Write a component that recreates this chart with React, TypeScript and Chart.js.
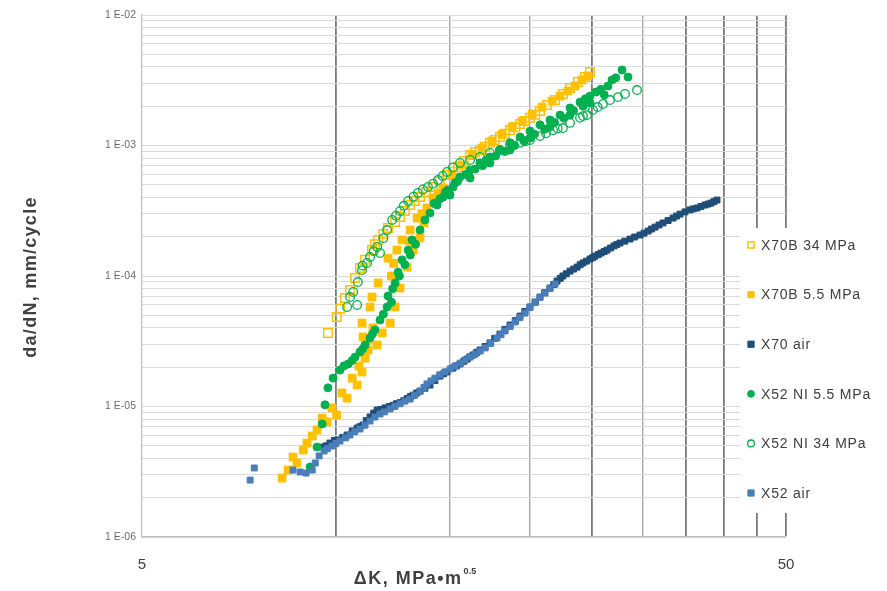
import React, { useEffect, useRef } from 'react';
import { Chart, registerables } from 'chart.js';

Chart.register(...registerables);

type Pt = [number, number];

const seriesLabels = ['X70B 34 MPa', 'X70B 5.5 MPa', 'X70 air', 'X52 NI 5.5 MPa', 'X52 NI 34 MPa', 'X52 air'];

const x70b34: Pt[] = [
  [9.72, 3.66e-5], [10.03, 4.85e-5], [10.15, 5.6e-5], [10.33, 6.78e-5], [10.52, 7.81e-5], [10.71, 9.66e-5],
  [10.9, 1.15e-4], [11.10, 1.33e-4], [11.38, 1.58e-4], [11.5, 1.75e-4], [11.63, 1.89e-4], [11.85, 2.1e-4],
  [12.05, 2.33e-4], [12.36, 2.59e-4], [12.58, 2.83e-4], [12.8, 3.15e-4], [13.04, 3.50e-4], [13.25, 3.75e-4],
  [13.51, 4.03e-4], [13.8, 4.4e-4], [14.15, 4.81e-4], [14.5, 5.3e-4], [14.88, 5.94e-4], [15.2, 6.3e-4],
  [15.48, 6.84e-4], [15.8, 7.6e-4], [16.16, 8.46e-4], [16.45, 8.9e-4], [16.74, 9.24e-4], [17.05, 9.8e-4],
  [17.35, 1.05e-3], [17.65, 1.1e-3], [17.98, 1.16e-3], [18.3, 1.23e-3], [18.64, 1.31e-3], [19.0, 1.38e-3],
  [19.32, 1.46e-3], [19.65, 1.54e-3], [20.02, 1.63e-3], [20.4, 1.72e-3], [20.75, 1.84e-3], [21.27, 2.04e-3],
  [21.90, 2.23e-3], [22.52, 2.48e-3], [23.10, 2.76e-3], [23.77, 3.07e-3], [24.37, 3.35e-3], [24.81, 3.66e-3],
];

const x70b55: Pt[] = [
  [8.25, 2.83e-6], [8.43, 3.26e-6], [8.58, 4.10e-6], [8.70, 3.69e-6], [8.90, 4.64e-6], [9.02, 5.25e-6],
  [9.19, 5.94e-6], [9.35, 6.61e-6], [9.52, 8.16e-6], [9.69, 7.61e-6], [9.86, 9.75e-6], [10.03, 8.61e-6],
  [10.22, 1.27e-5], [10.41, 1.16e-5], [10.60, 1.65e-5], [10.79, 1.46e-5], [10.86, 2.04e-5], [10.98, 1.84e-5],
  [11.10, 2.35e-5], [11.22, 2.71e-5], [11.02, 3.41e-5], [11.22, 3.23e-5], [11.42, 4.00e-5], [11.59, 2.96e-5],
  [11.80, 3.66e-5], [10.98, 4.36e-5], [11.30, 5.79e-5], [11.38, 6.90e-5], [12.14, 4.36e-5], [12.36, 5.79e-5],
  [11.63, 8.84e-5], [12.58, 8.09e-5], [12.2, 1.0e-4], [12.3, 1.25e-4], [12.05, 1.37e-4], [12.90, 1.17e-4],
  [12.44, 1.58e-4], [13.18, 1.58e-4], [13.0, 1.85e-4], [12.67, 1.89e-4], [13.04, 2.25e-4], [13.51, 1.96e-4],
  [13.7, 2.55e-4], [13.37, 2.78e-4], [13.6, 3.0e-4], [13.85, 3.32e-4], [14.15, 3.96e-4], [14.4, 4.3e-4],
  [14.67, 4.73e-4], [15.15, 5.94e-4], [15.70, 7.09e-4], [16.28, 8.46e-4], [16.86, 9.57e-4], [17.47, 1.08e-3],
  [18.11, 1.22e-3], [18.78, 1.39e-3], [19.46, 1.54e-3], [20.17, 1.74e-3], [20.90, 1.97e-3], [21.66, 2.19e-3],
  [22.29, 2.39e-3], [22.94, 2.62e-3], [23.52, 2.86e-3], [24.11, 3.18e-3], [24.63, 3.41e-3],
];

const x70air: Pt[] = [
  [9.55, 4.89e-6], [9.66, 5.0e-6], [9.79, 5.25e-6], [9.95, 5.5e-6], [10.07, 5.54e-6], [10.25, 5.8e-6],
  [10.41, 6.05e-6], [10.6, 6.5e-6], [10.79, 6.84e-6], [10.9, 7.0e-6], [11.02, 7.21e-6], [11.15, 7.8e-6],
  [11.30, 8.31e-6], [11.45, 8.9e-6], [11.59, 9.40e-6], [11.75, 9.5e-6], [11.92, 9.75e-6], [12.1, 1.0e-5],
  [12.27, 1.02e-5], [12.42, 1.05e-5], [12.58, 1.07e-5], [12.75, 1.11e-5], [12.90, 1.15e-5], [13.05, 1.19e-5],
  [13.18, 1.22e-5], [13.35, 1.27e-5], [13.51, 1.31e-5], [13.75, 1.38e-5], [14.00, 1.46e-5], [14.25, 1.58e-5],
  [14.51, 1.71e-5], [14.7, 1.78e-5], [14.88, 1.84e-5], [15.20, 1.97e-5], [15.4, 2.05e-5], [15.59, 2.12e-5],
  [15.8, 2.22e-5], [15.99, 2.31e-5], [16.15, 2.4e-5], [16.33, 2.48e-5], [16.55, 2.6e-5], [16.74, 2.71e-5],
  [17.05, 2.88e-5], [17.35, 3.07e-5], [17.65, 3.33e-5], [17.98, 3.59e-5], [18.3, 3.9e-5], [18.64, 4.21e-5],
  [19.0, 4.55e-5], [19.32, 4.93e-5], [19.65, 5.35e-5], [20.02, 5.79e-5], [20.4, 6.3e-5], [20.75, 6.90e-5],
  [21.1, 7.45e-5], [21.50, 8.09e-5], [21.8, 8.6e-5], [22.05, 9.15e-5], [22.3, 9.6e-5], [22.52, 1.00e-4],
  [22.8, 1.04e-4], [23.10, 1.09e-4], [23.4, 1.13e-4], [23.69, 1.17e-4], [23.95, 1.22e-4], [24.20, 1.26e-4],
  [24.5, 1.3e-4], [24.81, 1.35e-4], [25.05, 1.38e-4], [25.26, 1.42e-4], [25.55, 1.46e-4], [25.81, 1.50e-4],
  [26.1, 1.54e-4], [26.37, 1.58e-4], [26.7, 1.64e-4], [27.04, 1.70e-4], [27.3, 1.74e-4], [27.62, 1.79e-4],
  [28.1, 1.85e-4], [28.63, 1.92e-4], [29.1, 1.99e-4], [29.67, 2.06e-4], [30.1, 2.13e-4], [30.54, 2.21e-4],
  [30.9, 2.29e-4], [31.31, 2.37e-4], [31.75, 2.46e-4], [32.21, 2.55e-4], [32.8, 2.66e-4], [33.39, 2.78e-4],
  [33.8, 2.88e-4], [34.23, 2.98e-4], [34.85, 3.1e-4], [35.48, 3.21e-4], [35.9, 3.27e-4], [36.38, 3.32e-4],
  [36.9, 3.41e-4], [37.43, 3.50e-4], [37.85, 3.56e-4], [38.24, 3.62e-4], [38.65, 3.72e-4], [39.07, 3.82e-4],
];

const x52ni55: Pt[] = [
  [9.12, 3.44e-6], [9.35, 4.89e-6], [9.52, 7.34e-6], [9.62, 1.03e-5], [9.72, 1.39e-5], [9.90, 1.65e-5],
  [10.15, 1.90e-5], [10.3, 2.05e-5], [10.45, 2.12e-5], [10.6, 2.25e-5], [10.71, 2.39e-5], [10.90, 2.62e-5],
  [11.0, 2.75e-5], [11.10, 2.96e-5], [11.30, 3.35e-5], [11.4, 3.6e-5], [11.50, 3.86e-5], [11.71, 4.60e-5],
  [11.85, 5.1e-5], [12.01, 5.79e-5], [12.2, 6.3e-5], [12.05, 7.03e-5], [12.25, 8.0e-5], [12.36, 8.84e-5],
  [12.55, 1.0e-4], [12.49, 1.07e-4], [12.8, 1.22e-4], [12.67, 1.33e-4], [13.05, 1.45e-4], [12.95, 1.58e-4],
  [13.3, 1.75e-4], [13.13, 1.89e-4], [13.51, 2.25e-4], [13.75, 2.69e-4], [14.00, 3.04e-4], [14.36, 3.50e-4],
  [14.2, 3.6e-4], [14.5, 3.9e-4], [14.67, 4.03e-4], [14.8, 4.4e-4], [14.93, 4.56e-4], [15.2, 4.8e-4],
  [15.31, 5.17e-4], [15.45, 5.3e-4], [15.59, 5.74e-4], [15.9, 6.0e-4], [16.16, 6.49e-4], [16.45, 6.6e-4],
  [16.74, 7.35e-4], [16.9, 7.0e-4], [17.1, 7.7e-4], [17.35, 8.17e-4], [17.7, 8.3e-4], [17.98, 9.24e-4],
  [18.3, 9.0e-4], [18.64, 1.05e-3], [18.95, 1.0e-3], [19.32, 1.16e-3], [19.6, 1.08e-3], [20.02, 1.29e-3],
  [20.35, 1.22e-3], [20.75, 1.44e-3], [21.1, 1.33e-3], [21.50, 1.57e-3], [21.85, 1.5e-3], [22.29, 1.71e-3],
  [22.6, 1.62e-3], [23.10, 1.94e-3], [23.4, 1.85e-3], [23.94, 2.15e-3], [24.2, 2.0e-3], [24.4, 2.28e-3],
  [24.81, 2.39e-3], [25.35, 2.57e-3], [25.8, 2.7e-3], [26.1, 2.45e-3], [26.46, 2.86e-3], [26.84, 3.18e-3],
  [27.2, 3.3e-3], [27.82, 3.79e-3], [28.42, 3.35e-3],
  [15.04, 4.18e-4], [16.16, 5.64e-4], [17.35, 7.35e-4], [18.64, 9.24e-4], [20.02, 1.14e-3], [21.50, 1.39e-3],
  [23.10, 1.71e-3], [24.81, 2.12e-3],
];

const x52ni34: Pt[] = [
  [10.41, 5.79e-5], [10.52, 6.90e-5], [10.79, 6.00e-5], [10.64, 7.54e-5], [10.82, 8.99e-5], [10.98, 1.11e-4],
  [11.0, 1.2e-4], [11.18, 1.26e-4], [11.30, 1.40e-4], [11.45, 1.55e-4], [11.59, 1.67e-4], [11.71, 1.50e-4],
  [11.85, 1.95e-4], [12.01, 2.25e-4], [12.23, 2.69e-4], [12.4, 2.9e-4], [12.58, 3.15e-4], [12.75, 3.45e-4],
  [12.95, 3.76e-4], [13.2, 4.05e-4], [13.41, 4.33e-4], [13.65, 4.6e-4], [13.90, 4.81e-4], [14.15, 5.1e-4],
  [14.41, 5.44e-4], [14.65, 5.85e-4], [14.88, 6.27e-4], [15.2, 6.8e-4], [15.59, 7.35e-4], [16.16, 7.74e-4],
  [16.74, 8.17e-4], [17.35, 8.77e-4], [17.98, 9.24e-4], [18.64, 1.01e-3], [19.32, 1.05e-3], [19.7, 1.08e-3],
  [20.02, 1.10e-3], [20.75, 1.18e-3], [21.2, 1.24e-3], [21.74, 1.31e-3], [22.1, 1.35e-3], [22.52, 1.36e-3],
  [23.10, 1.49e-3], [23.94, 1.63e-3], [24.2, 1.68e-3], [24.55, 1.71e-3], [25.07, 1.87e-3], [25.5, 1.97e-3],
  [25.99, 2.08e-3], [26.65, 2.23e-3], [27.42, 2.35e-3], [28.12, 2.48e-3], [29.35, 2.66e-3],
];

const x52air: Pt[] = [
  [7.36, 2.73e-6], [7.47, 3.38e-6], [8.58, 3.26e-6], [8.80, 3.15e-6], [8.99, 3.09e-6], [9.19, 3.26e-6],
  [9.29, 3.69e-6], [9.42, 4.18e-6], [9.59, 4.56e-6], [9.7, 4.75e-6], [9.86, 4.98e-6], [10.0, 5.2e-6],
  [10.15, 5.44e-6], [10.35, 5.75e-6], [10.52, 6.05e-6], [10.7, 6.4e-6], [10.90, 6.72e-6], [11.1, 7.2e-6],
  [11.30, 7.74e-6], [11.5, 8.3e-6], [11.71, 8.76e-6], [11.9, 9.1e-6], [12.14, 9.57e-6], [12.35, 1.0e-5],
  [12.58, 1.05e-5], [12.8, 1.1e-5], [13.04, 1.14e-5], [13.25, 1.22e-5], [13.51, 1.31e-5], [13.7, 1.4e-5],
  [13.85, 1.49e-5], [14.05, 1.57e-5], [14.25, 1.65e-5], [14.5, 1.75e-5], [14.77, 1.84e-5], [15.05, 1.94e-5],
  [15.31, 2.04e-5], [15.6, 2.15e-5], [15.87, 2.27e-5], [16.15, 2.4e-5], [16.45, 2.52e-5], [16.75, 2.66e-5],
  [17.05, 2.81e-5], [17.4, 3.05e-5], [17.79, 3.35e-5], [18.05, 3.55e-5], [18.31, 3.79e-5], [18.65, 4.1e-5],
  [18.98, 4.44e-5], [19.3, 4.8e-5], [19.67, 5.20e-5], [20.0, 5.75e-5], [20.38, 6.32e-5], [20.75, 6.85e-5],
  [21.12, 7.41e-5], [21.5, 8.0e-5], [21.90, 8.68e-5],
];

const seriesData: Pt[][] = [x70b34, x70b55, x70air, x52ni55, x52ni34, x52air];

const xTickValues = [5, 10, 15, 20, 25, 30, 35, 40, 45, 50];
const xTickLabels = ['5', '', '', '', '', '', '', '', '', '50'];
const yDecadeValues = [1e-6, 1e-5, 1e-4, 1e-3, 1e-2];
const yDecadeLabels = ['1 E-06', '1 E-05', '1 E-04', '1 E-03', '1 E-02'];
const yMinorSteps = [2, 3, 4, 5, 6, 7, 8, 9];

const xTitleMain = 'ΔK, MPa•m';
const xTitleSup = '0.5';
const yTitle = 'da/dN, mm/cycle';

const ORANGE = '#FFC000';
const GREEN = '#00B050';
const NAVY = '#1F4E79';
const LIGHTBLUE = '#4A7EBB';
const FONT = '"Liberation Sans", Arial, sans-serif';

const seriesStyles = [
  { pointStyle: 'rect', radius: 6, bg: 'rgba(255,255,255,0)', border: ORANGE, bw: 1.5 },
  { pointStyle: 'rect', radius: 5.5, bg: ORANGE, border: ORANGE, bw: 1 },
  { pointStyle: 'rect', radius: 4.2, bg: NAVY, border: NAVY, bw: 1 },
  { pointStyle: 'circle', radius: 4, bg: GREEN, border: GREEN, bw: 1 },
  { pointStyle: 'circle', radius: 4.3, bg: 'rgba(255,255,255,0)', border: GREEN, bw: 1.3 },
  { pointStyle: 'rect', radius: 4.2, bg: LIGHTBLUE, border: LIGHTBLUE, bw: 1 },
];

const darkGridValues = [10, 25, 35, 40, 45, 50];

function drawMarker(ctx: CanvasRenderingContext2D, style: string, x: number, y: number, r: number, fill: string, stroke: string, bw: number) {
  ctx.beginPath();
  if (style === 'circle') {
    ctx.arc(x, y, r, 0, Math.PI * 2);
  } else {
    const s = r * Math.SQRT1_2;
    ctx.rect(x - s, y - s, 2 * s, 2 * s);
  }
  ctx.fillStyle = fill;
  ctx.fill();
  ctx.lineWidth = bw;
  ctx.strokeStyle = stroke;
  ctx.stroke();
}

const titlesPlugin = {
  id: 'titles',
  afterDraw(chart: any) {
    const ctx: any = chart.ctx;
    ctx.save();
    ctx.fillStyle = '#404040';
    // x title with superscript
    ctx.letterSpacing = '1.5px';
    ctx.font = `bold 18px ${FONT}`;
    const wMain = ctx.measureText(xTitleMain).width;
    ctx.letterSpacing = '0px';
    ctx.font = `bold 9px ${FONT}`;
    const wSup = ctx.measureText(xTitleSup).width;
    const cx = 415;
    const startX = cx - (wMain + wSup + 1) / 2;
    ctx.textBaseline = 'alphabetic';
    ctx.textAlign = 'left';
    ctx.letterSpacing = '1.5px';
    ctx.font = `bold 18px ${FONT}`;
    ctx.fillText(xTitleMain, startX, 584);
    ctx.letterSpacing = '0px';
    ctx.font = `bold 9px ${FONT}`;
    ctx.fillText(xTitleSup, startX + wMain + 1, 574);
    // y title
    ctx.translate(31, 277);
    ctx.rotate(-Math.PI / 2);
    ctx.letterSpacing = '1.3px';
    ctx.font = `bold 18px ${FONT}`;
    ctx.textAlign = 'center';
    ctx.textBaseline = 'middle';
    ctx.fillText(yTitle, 0, 0);
    ctx.restore();
  },
};

const legendPlugin = {
  id: 'boxLegend',
  afterDraw(chart: any) {
    const ctx: any = chart.ctx;
    ctx.save();
    ctx.fillStyle = '#ffffff';
    ctx.fillRect(740, 228, 147, 285);
    chart.data.datasets.forEach((ds: any, i: number) => {
      const y = 245 + i * 49.6;
      const st = seriesStyles[i];
      drawMarker(ctx, st.pointStyle, 751, y, st.pointStyle === 'circle' ? 3.4 : 4.4, st.bg, st.border, st.bw);
      ctx.fillStyle = '#404040';
      ctx.letterSpacing = '0.8px';
      ctx.font = `14px ${FONT}`;
      ctx.textAlign = 'left';
      ctx.textBaseline = 'middle';
      ctx.fillText(ds.label, 761, y + 1);
    });
    ctx.restore();
  },
};

export default function App() {
  const canvasRef = useRef<HTMLCanvasElement | null>(null);

  useEffect(() => {
    document.body.style.margin = '0';
    const canvas = canvasRef.current;
    if (!canvas) return;

    const yTicks: number[] = [];
    yDecadeValues.forEach((d, i) => {
      yTicks.push(d);
      if (i < yDecadeValues.length - 1) yMinorSteps.forEach((m) => yTicks.push(d * m));
    });

    const datasets = seriesData.map((arr, i) => {
      const st = seriesStyles[i];
      return {
        label: seriesLabels[i],
        data: arr.map(([x, y]) => ({ x, y })),
        pointStyle: st.pointStyle,
        pointRadius: st.radius,
        pointBackgroundColor: st.bg,
        pointBorderColor: st.border,
        pointBorderWidth: st.bw,
        showLine: false,
        order: seriesData.length - i,
      };
    });

    const chart = new Chart(canvas, {
      type: 'scatter',
      data: { datasets },
      options: {
        animation: false,
        responsive: false,
        maintainAspectRatio: false,
        layout: { padding: { left: 0, right: 101, top: 15, bottom: 0 } },
        plugins: { legend: { display: false }, tooltip: { enabled: false } },
        scales: {
          x: {
            type: 'logarithmic',
            min: 5,
            max: 50,
            afterBuildTicks: (scale: any) => {
              scale.ticks = xTickValues.map((value) => ({ value }));
            },
            afterFit: (scale: any) => {
              scale.height = 54;
            },
            ticks: {
              autoSkip: false,
              maxRotation: 0,
              padding: 19,
              color: '#404040',
              font: { family: FONT, size: 15 },
              callback: (value: any) => {
                const i = xTickValues.indexOf(Number(value));
                return i >= 0 ? xTickLabels[i] : '';
              },
            },
            grid: {
              drawTicks: false,
              color: (ctx: any) => {
                const v = ctx.tick ? ctx.tick.value : 0;
                if (v === 5) return 'rgba(0,0,0,0)';
                return darkGridValues.includes(v) ? '#7a7a7a' : '#a8a8a8';
              },
              lineWidth: (ctx: any) => {
                const v = ctx.tick ? ctx.tick.value : 0;
                return darkGridValues.includes(v) ? 1.8 : 1.4;
              },
            },
            border: { display: true, color: '#bfbfbf', width: 1.2 },
          },
          y: {
            type: 'logarithmic',
            min: 1e-6,
            max: 1e-2,
            afterBuildTicks: (scale: any) => {
              scale.ticks = yTicks.map((value) => ({ value }));
            },
            afterFit: (scale: any) => {
              scale.width = 142;
            },
            ticks: {
              autoSkip: false,
              padding: 6,
              color: '#6a6a6a',
              font: { family: FONT, size: 10.5 },
              callback: (value: any) => {
                const v = Number(value);
                const i = yDecadeValues.findIndex((d) => Math.abs(d - v) / d < 1e-6);
                return i >= 0 ? yDecadeLabels[i] : '';
              },
            },
            grid: {
              drawTicks: false,
              color: '#d9d9d9',
              lineWidth: 1,
            },
            border: { display: true, color: '#bfbfbf', width: 1.2 },
          },
        },
      },
      plugins: [titlesPlugin, legendPlugin],
    } as any);

    return () => {
      chart.destroy();
    };
  }, []);

  return (
    <div style={{ width: 887, height: 591, background: '#ffffff' }}>
      <canvas ref={canvasRef} width={887} height={591} style={{ display: 'block' }} />
    </div>
  );
}
